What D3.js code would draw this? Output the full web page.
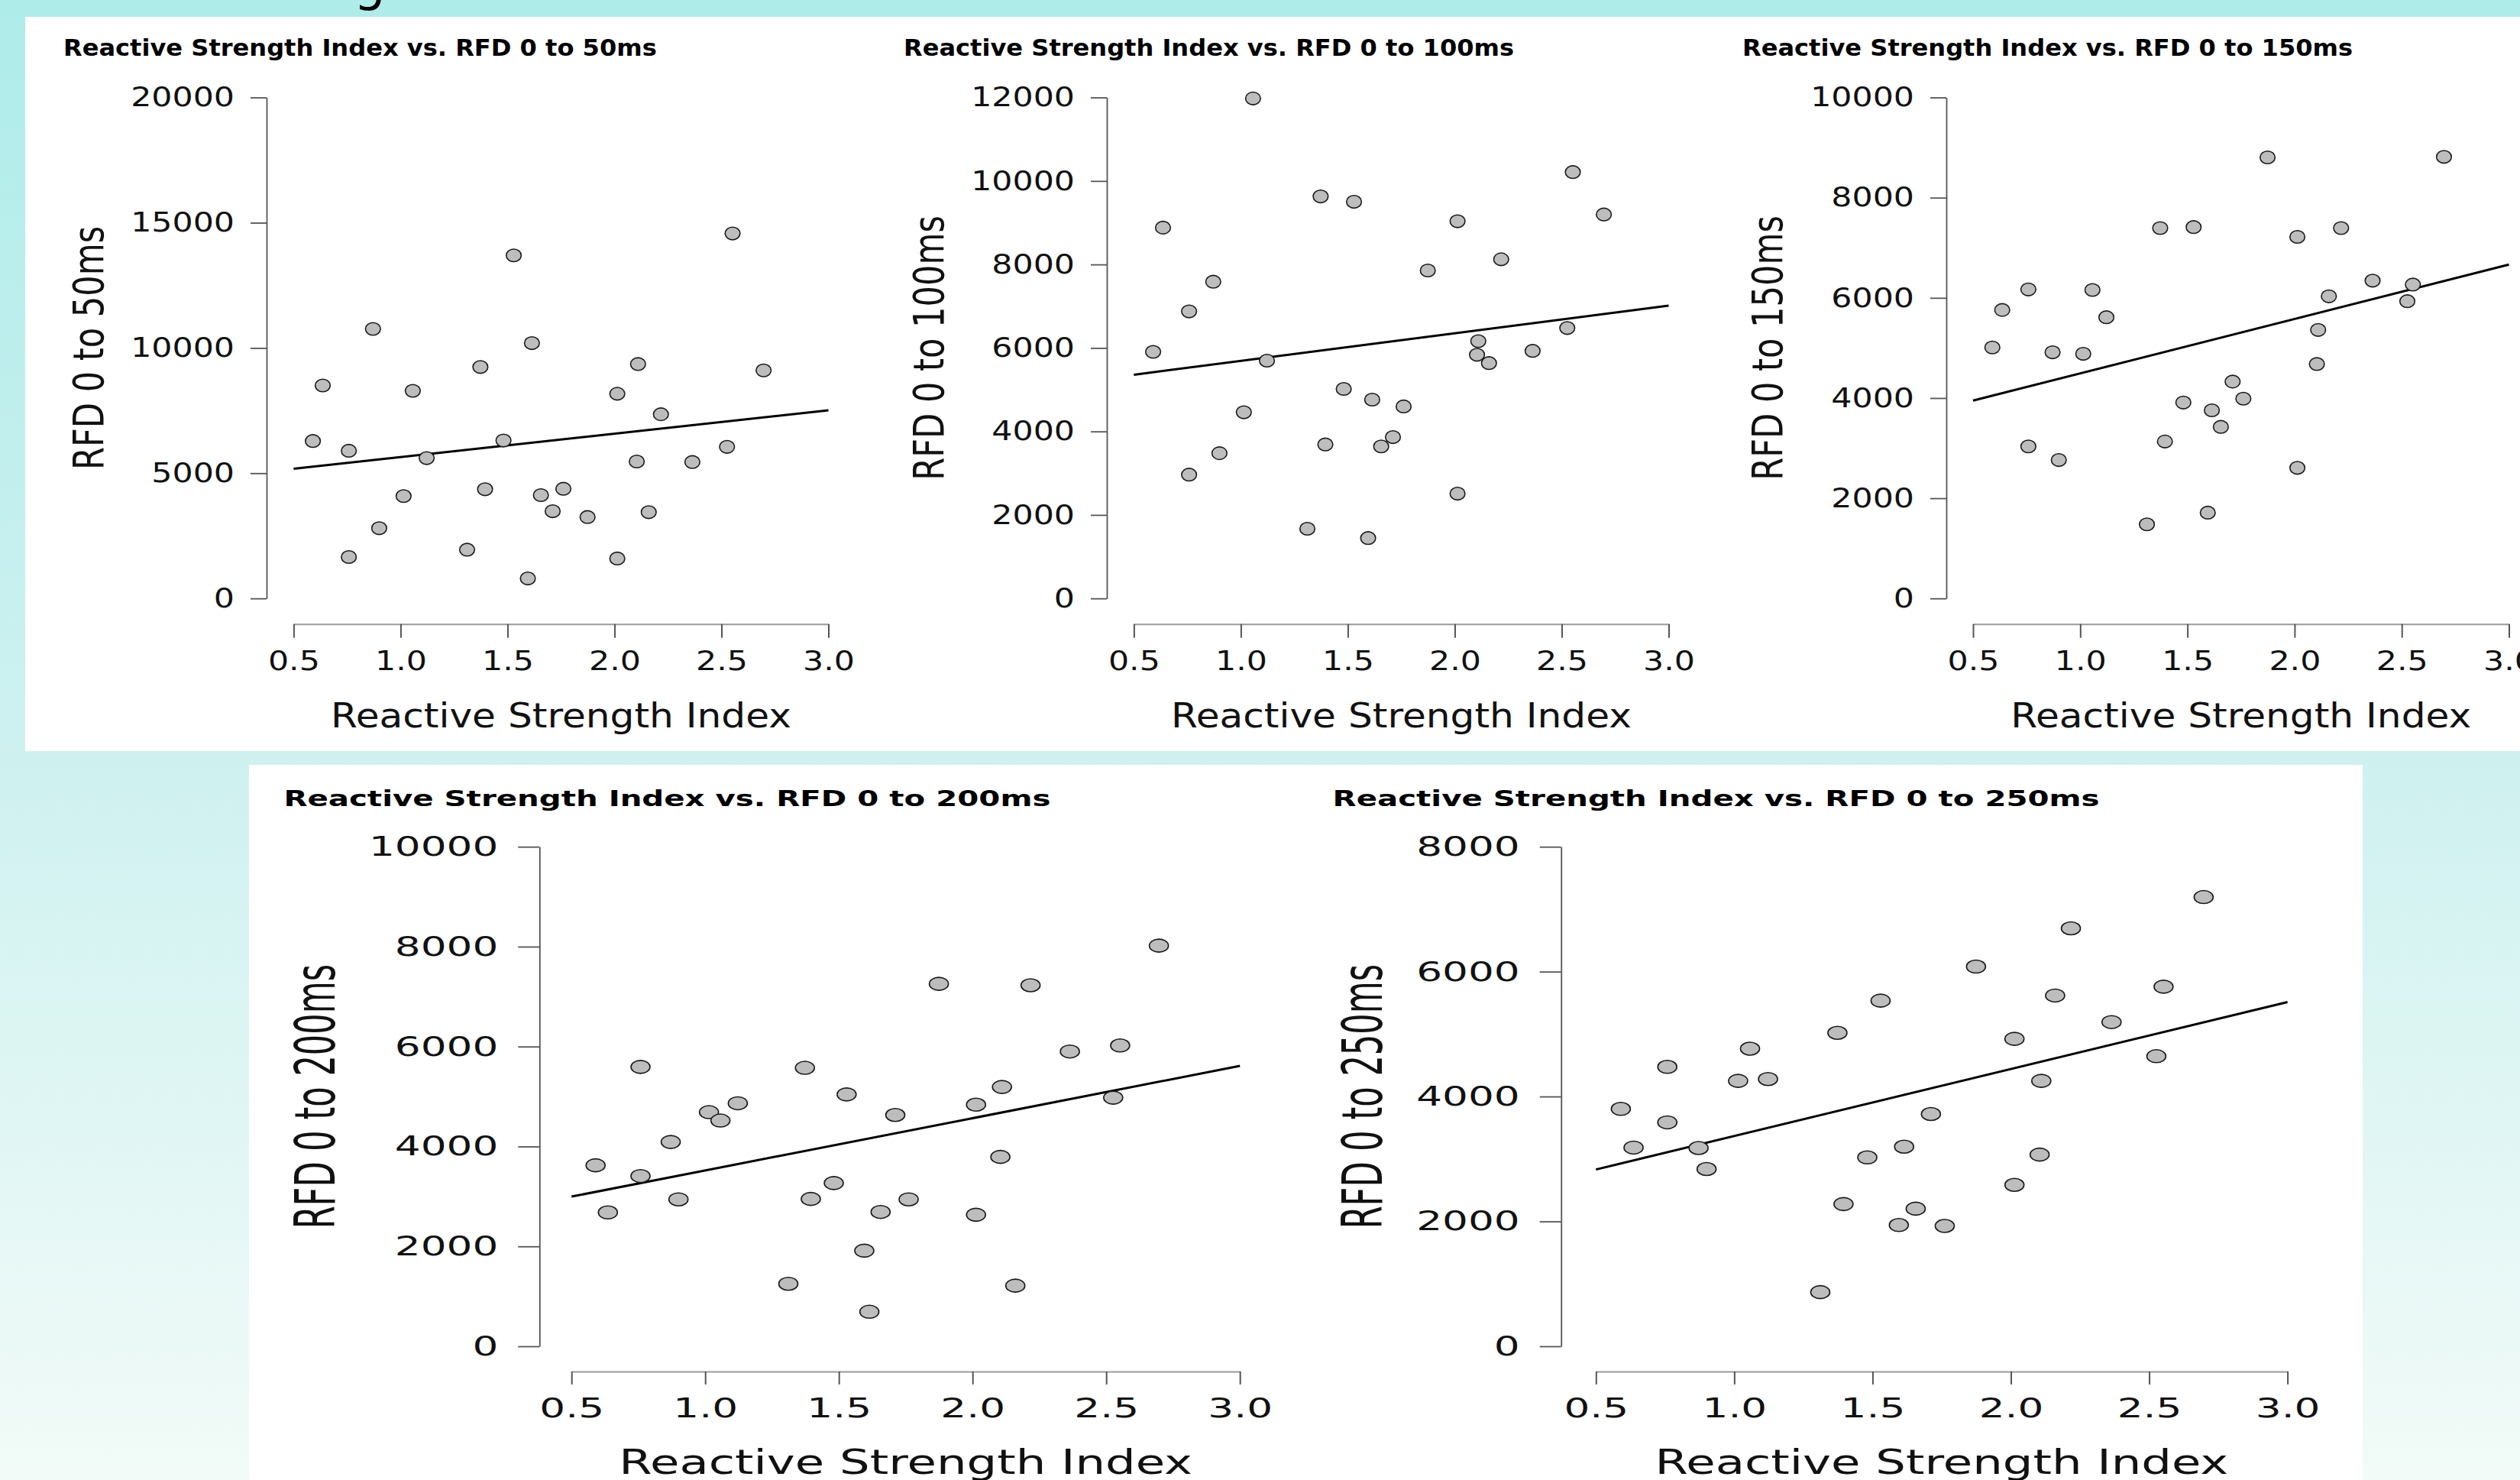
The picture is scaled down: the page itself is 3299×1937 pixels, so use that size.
<!DOCTYPE html>
<html><head><meta charset="utf-8">
<script src="https://cdn.jsdelivr.net/npm/d3@7"></script>
<style>html,body{margin:0;padding:0;overflow:hidden;background:#fff}</style>
</head><body>
<script>
// ---------------- DATA ----------------
const rsi = [0.590,0.636,0.758,0.758,0.871,0.900,1.014,1.057,1.122,1.311,1.373,1.395,1.481,1.529,1.595,1.614,1.656,1.711,1.761,1.874,2.013,2.013,2.104,2.110,2.160,2.217,2.364,2.526,2.552,2.697];
const rfd50  = [6284,8502,5895,1654,10759,2802,4086,8288,5603,1946,9241,4358,6303,13696,798,10194,4124,3482,4377,3249,8171,1595,5467,9358,3444,7354,5447,6051,14572,9105];
const rfd100 = [5907,8883,6875,2965,7587,3479,4459,11977,5696,1669,9630,3689,5019,9502,1447,4763,3642,3864,4599,7856,9035,2510,5837,6163,5638,8124,5930,6478,10214,9198];
const rfd150 = [5010,5759,6168,3035,4913,2763,4883,6158,5613,1479,7393,3132,3911,7413,1712,3755,3424,4329,3988,8804,7218,2607,4679,5360,6031,7393,6343,5934,6265,8814];
const rfd200 = [3623,2680,5593,3408,4090,2941,4687,4519,4865,1251,5574,2950,3268,5042,1914,691,2689,4631,2941,7255,4837,2633,3791,5191,1214,7227,5901,4977,6022,8020];
const rfd250 = [3802,3182,4475,3586,3175,2839,4250,4766,4280,867,5020,2278,3025,5535,1942,3197,2204,3720,1927,6081,2585,4923,3070,4250,5617,6693,5192,4646,5759,7194];
const seriesY = [rfd50, rfd100, rfd150, rfd200, rfd250];
const titles = ["Reactive Strength Index vs. RFD 0 to 50ms","Reactive Strength Index vs. RFD 0 to 100ms","Reactive Strength Index vs. RFD 0 to 150ms","Reactive Strength Index vs. RFD 0 to 200ms","Reactive Strength Index vs. RFD 0 to 250ms"];
const yLabels = ["RFD 0 to 50ms","RFD 0 to 100ms","RFD 0 to 150ms","RFD 0 to 200ms","RFD 0 to 250ms"];
const xLabel = "Reactive Strength Index";
const xTicks = [0.5,1.0,1.5,2.0,2.5,3.0];
const yTicks = [
  [0,5000,10000,15000,20000],
  [0,2000,4000,6000,8000,10000,12000],
  [0,2000,4000,6000,8000,10000],
  [0,2000,4000,6000,8000,10000],
  [0,2000,4000,6000,8000]
];
const fitStart = [5180,5358,3950,2997,2831];   // fitted value at RSI 0.5
const fitEnd   = [7510,7015,6664,5612,5513];   // fitted value at RSI 3.0
const headingFragment = "g";

// ---------------- LAYOUT ----------------
const W = 3299, H = 1937;
const layout = [
  {row:"top", tx:83,    ty:73,     yAxisX:349,    yR:[783.2,127.6], xAxisY:816.7, xR:[384.4,1084.5], yLabX:134.7, xLabY:951.5},
  {row:"top", tx:1183,  ty:73,     yAxisX:1449,   yR:[783.2,127.6], xAxisY:816.7, xR:[1484.4,2184.5], yLabX:1234.7, xLabY:951.5},
  {row:"top", tx:2281,  ty:73,     yAxisX:2548,   yR:[783.2,127.6], xAxisY:816.7, xR:[2583,3284.5], yLabX:2333, xLabY:951.5},
  {row:"bot", tx:371.4, ty:1054.5, yAxisX:706.3,  yR:[1762,1108.2], xAxisY:1795, xR:[748.2,1623.2], yLabX:438.4, xLabY:1929},
  {row:"bot", tx:1744.6,ty:1054.5, yAxisX:2043.75,yR:[1762,1108.2], xAxisY:1795, xR:[2089.3,2994.6], yLabX:1809, xLabY:1929}
];
const rowStyle = {
  top:{titleFs:30, titleSx:1.07, tickFs:35, tickSx:1.22, yTickLen:21, yTickOff:42, xTickLen:18, xTickDy:60, labFs:44, xLabSx:1.14, yLabSx:1.28, rx:9.8, ry:8.3},
  bot:{titleFs:29, titleSx:1.39, tickFs:35.5, tickSx:1.5, yTickLen:28, yTickOff:54, xTickLen:17, xTickDy:60, labFs:44, xLabSx:1.42, yLabSx:1.7, rx:12.5, ry:8.5}
};
const FONT = "'DejaVu Sans', Verdana, sans-serif";

const svg = d3.select("body").append("svg")
  .attr("width", W).attr("height", H)
  .attr("viewBox", `0 0 ${W} ${H}`)
  .style("display","block");

// background gradient
const defs = svg.append("defs");
const grad = defs.append("linearGradient").attr("id","bg").attr("x1",0).attr("y1",0).attr("x2",0).attr("y2",1);
grad.append("stop").attr("offset","0%").attr("stop-color","#aeecea");
grad.append("stop").attr("offset","51%").attr("stop-color","#cef1f0");
grad.append("stop").attr("offset","100%").attr("stop-color","#f2fbf8");
svg.append("rect").attr("width",W).attr("height",H).attr("fill","url(#bg)");

// cut-off slide heading
svg.append("text").attr("x",463).attr("y",0).attr("font-family",FONT).attr("font-size",66)
  .attr("fill","#000").text(headingFragment);

// white panels
svg.append("rect").attr("x",33).attr("y",22).attr("width",W-33).attr("height",983-22).attr("fill","#fff");
svg.append("rect").attr("x",326).attr("y",1001).attr("width",3093-326).attr("height",H-1001).attr("fill","#fff");

layout.forEach((L, i) => {
  const s = rowStyle[L.row];
  const g = svg.append("g");
  const x = d3.scaleLinear().domain([0.5,3.0]).range(L.xR);
  const yDom = d3.max(yTicks[i]);
  const y = d3.scaleLinear().domain([0,yDom]).range(L.yR);

  // title
  g.append("text")
    .attr("transform",`translate(${L.tx},${L.ty}) scale(${s.titleSx},1)`)
    .attr("font-family",FONT).attr("font-weight","bold").attr("font-size",s.titleFs)
    .attr("fill","#000").text(titles[i]);

  // y axis
  const ya = g.append("g").attr("transform",`translate(${L.yAxisX},0)`)
    .call(d3.axisLeft(y).tickValues(yTicks[i]).tickFormat(d3.format("d")).tickSizeInner(s.yTickLen).tickSizeOuter(0));
  ya.select(".domain").attr("stroke","#555").attr("stroke-width",1.8);
  ya.selectAll(".tick line").attr("stroke","#555").attr("stroke-width",1.8);
  ya.selectAll(".tick text").attr("x",0)
    .attr("transform",`translate(${-s.yTickOff},0) scale(${s.tickSx},1)`)
    .attr("font-family",FONT).attr("font-size",s.tickFs).attr("fill","#111");

  // x axis
  const xa = g.append("g").attr("transform",`translate(0,${L.xAxisY})`)
    .call(d3.axisBottom(x).tickValues(xTicks).tickFormat(d3.format(".1f")).tickSizeInner(s.xTickLen).tickSizeOuter(0));
  xa.select(".domain").attr("stroke","#9a9a9a").attr("stroke-width",2);
  xa.selectAll(".tick line").attr("stroke","#555").attr("stroke-width",2);
  xa.selectAll(".tick text").attr("y",0).attr("dy",0)
    .attr("transform",`translate(0,${s.xTickDy}) scale(${s.tickSx},1)`)
    .attr("font-family",FONT).attr("font-size",s.tickFs).attr("fill","#111");
  ya.attr("font-family",null); xa.attr("font-family",null);

  // axis labels
  g.append("text")
    .attr("transform",`translate(${(L.xR[0]+L.xR[1])/2},${L.xLabY}) scale(${s.xLabSx},1)`)
    .attr("text-anchor","middle").attr("font-family",FONT).attr("font-size",s.labFs)
    .attr("fill","#111").text(xLabel);
  g.append("text")
    .attr("transform",`translate(${L.yLabX},${(L.yR[0]+L.yR[1])/2}) scale(${s.yLabSx},1) rotate(-90)`)
    .attr("text-anchor","middle").attr("font-family",FONT).attr("font-size",s.labFs*0.98)
    .attr("fill","#111").text(yLabels[i]);

  // regression line
  const fit = [[0.5, fitStart[i]],[3.0, fitEnd[i]]];
  g.append("path").datum(fit)
    .attr("d", d3.line().x(d=>x(d[0])).y(d=>y(d[1])))
    .attr("fill","none").attr("stroke","#000").attr("stroke-width",3);

  // points
  g.append("g").selectAll("ellipse").data(rsi.map((v,k)=>[v, seriesY[i][k]])).join("ellipse")
    .attr("cx", d=>x(d[0])).attr("cy", d=>y(d[1]))
    .attr("rx", s.rx).attr("ry", s.ry)
    .attr("fill","#bdbdbd").attr("stroke","#1a1a1a").attr("stroke-width",1.6);
});
</script>
</body></html>
